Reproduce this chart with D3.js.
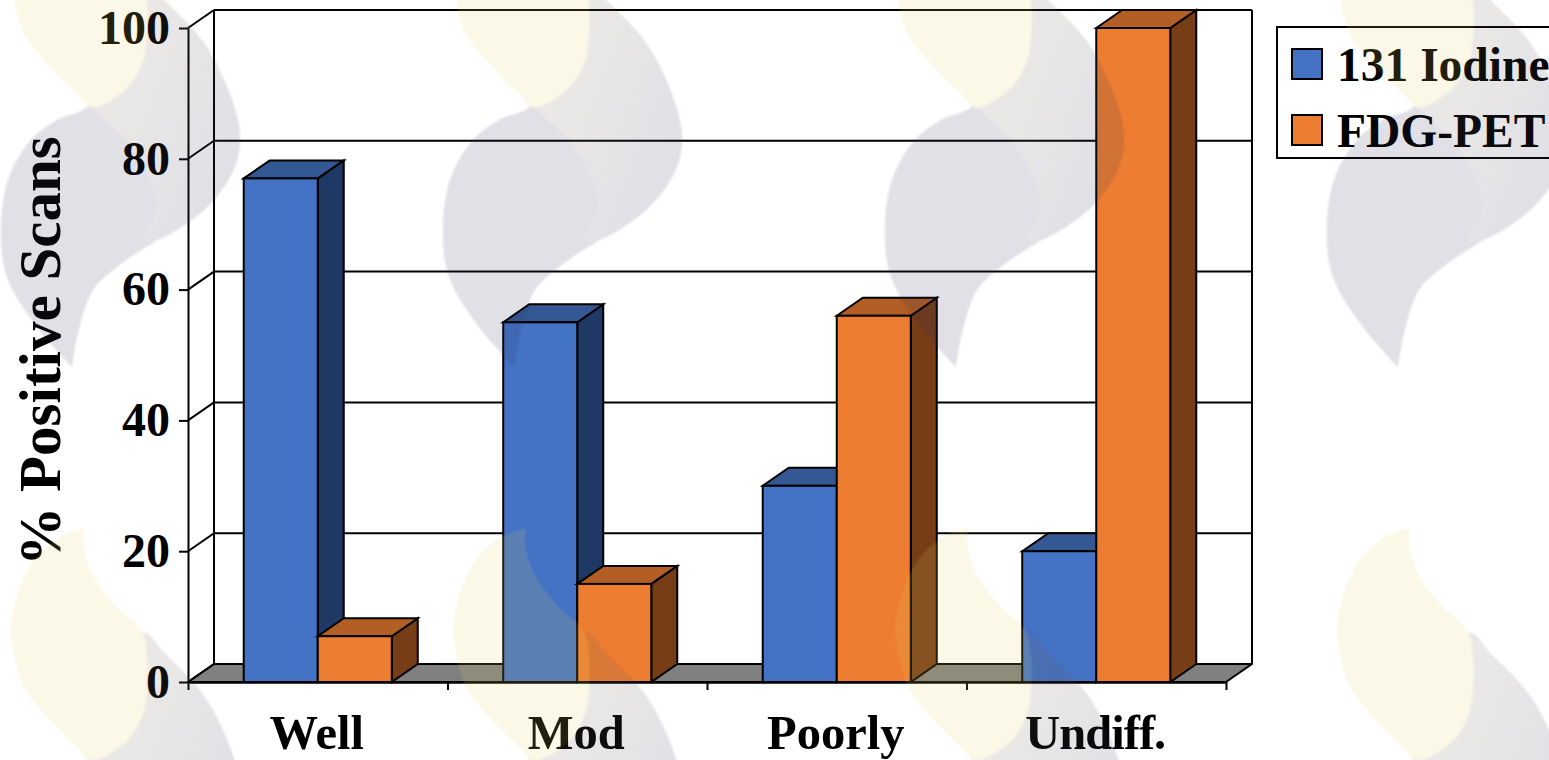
<!DOCTYPE html>
<html>
<head>
<meta charset="utf-8">
<title>% Positive Scans by differentiation</title>
<script src="https://cdn.jsdelivr.net/npm/d3@7"></script>
<style>
  html, body { margin: 0; padding: 0; background: #fff; overflow: hidden; }
  svg { display: block; }
  text { font-family: "Liberation Serif", "Times New Roman", serif; font-weight: bold; fill: #000; }
</style>
</head>
<body>
<svg id="chart" width="1549" height="760"></svg>
<script>
// Chart values
const categories = ["Well", "Mod", "Poorly", "Undiff."];
const seriesNames = ["131 Iodine", "FDG-PET"];
const iodine131 = [77, 55, 30, 20];
const fdgPet = [7, 15, 56, 100];
const yTicks = [0, 20, 40, 60, 80, 100];
const yTitle = "% Positive Scans";

// Palette: front, top and side faces of each series
const blueFaces = { front: "#4472c4", top: "#345893", side: "#203864" };
const orangeFaces = { front: "#ed7d31", top: "#b25e25", side: "#773d17" };

// Layout
const plot = { left: 188, right: 1226, top: 28, bottom: 682 };
const depth = { dx: 26, dy: -18 };
const ink = 2;

// Background flame motif: outlines in tile coordinates and tile origins
const flameOutline = [[71,367],[36,327],[6,277],[0,227],[8,177],[30,140],[56,120],[88,105],[110,20],[143,-20],[163,0],[203,43],[231,100],[239,140],[231,173],[203,210],[156,240],[116,267],[92,290],[77,333],[71,367]];
const flameBand = [[88,105],[128,143],[152,187],[154,213],[140,240],[156,240],[203,210],[231,173],[239,140],[231,100],[203,43],[163,0],[143,-20],[100,40],[88,105]];
const flameLobe = [[83,-125],[83,-103],[93,-76],[116,-46],[140,-23],[146,7],[146,30],[143,57],[130,83],[110,100],[90,107],[76,94],[46,64],[23,34],[13,0],[10,-26],[18,-63],[36,-97],[60,-117],[83,-125]];
const tileColumns = [1, 443, 885, 1327];
const tileRows = [0, 653];

const svg = d3.select("#chart");

const y = d3.scaleLinear().domain([0, 100]).range([plot.bottom, plot.top]);
const xEdges = d3.scaleLinear().domain([0, categories.length]).range([plot.left, plot.right]);
const xBand = d3.scaleBand().domain(categories).range([plot.left, plot.right]);
const xBar = d3.scaleBand().domain(seriesNames).range([0, xBand.bandwidth()]).paddingOuter(0.753).paddingInner(0);

const poly = pts => "M" + pts.map(p => p.join(",")).join("L") + "Z";

// Floor, back wall and left wall connectors
const chartArea = svg.append("g");
chartArea.append("path")
  .attr("d", poly([
    [plot.left, plot.bottom],
    [plot.left + depth.dx, plot.bottom + depth.dy],
    [plot.right + depth.dx, plot.bottom + depth.dy],
    [plot.right, plot.bottom]
  ]))
  .attr("fill", "#808080").attr("stroke", "#000").attr("stroke-width", ink).attr("stroke-linejoin", "round");

const gridLines = chartArea.append("g").attr("fill", "none").attr("stroke", "#000").attr("stroke-width", ink);
gridLines.selectAll("line.back").data(yTicks).join("line")
  .attr("class", "back")
  .attr("x1", plot.left + depth.dx).attr("x2", plot.right + depth.dx)
  .attr("y1", d => y(d) + depth.dy).attr("y2", d => y(d) + depth.dy);
gridLines.selectAll("line.side").data(yTicks).join("line")
  .attr("class", "side")
  .attr("x1", plot.left).attr("x2", plot.left + depth.dx)
  .attr("y1", d => y(d)).attr("y2", d => y(d) + depth.dy);
gridLines.append("line")
  .attr("x1", plot.left + depth.dx).attr("x2", plot.left + depth.dx)
  .attr("y1", y(100) + depth.dy).attr("y2", y(0) + depth.dy);
gridLines.append("line")
  .attr("x1", plot.right + depth.dx).attr("x2", plot.right + depth.dx)
  .attr("y1", y(100) + depth.dy).attr("y2", y(0) + depth.dy);

// Extruded bars, painted left to right so nearer faces overlap correctly
const rows = categories.flatMap((c, i) => [
  { category: c, series: seriesNames[0], value: iodine131[i], faces: blueFaces },
  { category: c, series: seriesNames[1], value: fdgPet[i], faces: orangeFaces }
]);
const bars = svg.append("g").selectAll("g").data(rows).join("g")
  .attr("stroke", "#000").attr("stroke-width", ink).attr("stroke-linejoin", "miter");
const barBox = d => {
  const x0 = xBand(d.category) + xBar(d.series);
  return { x0, x1: x0 + xBar.bandwidth(), y0: y(d.value), y1: y(0) };
};
bars.append("path").attr("fill", d => d.faces.side).attr("d", d => {
  const b = barBox(d);
  return poly([[b.x1, b.y0], [b.x1 + depth.dx, b.y0 + depth.dy], [b.x1 + depth.dx, b.y1 + depth.dy], [b.x1, b.y1]]);
});
bars.append("path").attr("fill", d => d.faces.top).attr("d", d => {
  const b = barBox(d);
  return poly([[b.x0, b.y0], [b.x0 + depth.dx, b.y0 + depth.dy], [b.x1 + depth.dx, b.y0 + depth.dy], [b.x1, b.y0]]);
});
bars.append("rect").attr("fill", d => d.faces.front)
  .attr("x", d => barBox(d).x0).attr("y", d => barBox(d).y0)
  .attr("width", xBar.bandwidth()).attr("height", d => barBox(d).y1 - barBox(d).y0);

// Axes
const yAxis = svg.append("g").attr("transform", `translate(${plot.left},0)`)
  .call(d3.axisLeft(y).tickValues(yTicks).tickSize(9).tickSizeOuter(0).tickPadding(9));
const xAxis = svg.append("g").attr("transform", `translate(0,${plot.bottom})`)
  .call(d3.axisBottom(xEdges).tickValues(d3.range(categories.length + 1)).tickFormat("").tickSize(8).tickSizeOuter(0));
[yAxis, xAxis].forEach(a => {
  a.selectAll("path, line").attr("stroke", "#000").attr("stroke-width", ink);
  a.selectAll("text").attr("font-family", null).style("font-size", "48px").attr("fill", "#000");
});
xAxis.select(".domain").attr("stroke-width", ink + 0.5);

svg.append("g").selectAll("text").data(categories).join("text")
  .attr("x", d => xBand(d) + xBand.bandwidth() / 2 - 1)
  .attr("y", 749)
  .attr("text-anchor", "middle")
  .style("font-size", "48.5px")
  .style("letter-spacing", d => d === "Undiff." ? "-1px" : null)
  .text(d => d);

svg.append("text")
  .attr("transform", "translate(60,351) rotate(-90)")
  .attr("text-anchor", "middle")
  .style("font-size", "59px")
  .text(yTitle);

// Legend
const legend = svg.append("g");
legend.append("rect").attr("x", 1277).attr("y", 27).attr("width", 300).attr("height", 131)
  .attr("fill", "none").attr("stroke", "#000").attr("stroke-width", ink);
const legendRows = legend.selectAll("g").data(seriesNames).join("g")
  .attr("transform", (d, i) => `translate(0,${i * 66})`);
legendRows.append("rect").attr("x", 1292).attr("y", 49).attr("width", 30).attr("height", 30)
  .attr("fill", (d, i) => [blueFaces, orangeFaces][i].front)
  .attr("stroke", "#000").attr("stroke-width", ink);
legendRows.append("text").attr("x", 1337).attr("y", 81)
  .style("font-size", "47.5px").text(d => d);

// Translucent flame motif laid over the whole page
const defs = svg.append("defs");
defs.append("filter").attr("id", "soft").attr("x", "-5%").attr("y", "-5%").attr("width", "110%").attr("height", "110%")
  .append("feGaussianBlur").attr("stdDeviation", 0.9);
const fade = defs.append("linearGradient").attr("id", "flameFade")
  .attr("x1", 0).attr("y1", 0).attr("x2", 1).attr("y2", 0.7);
fade.append("stop").attr("offset", "0.35").attr("stop-color", "#75675a");
fade.append("stop").attr("offset", "0.95").attr("stop-color", "#2d2d58");

const flameCurve = d3.line().curve(d3.curveCatmullRom.alpha(0.5));
const tiles = tileRows.flatMap(ty => tileColumns.map(tx => [tx, ty]));
const motif = svg.append("g").attr("opacity", 0.15).attr("pointer-events", "none");
const tile = motif.selectAll("g").data(tiles).join("g")
  .attr("transform", d => `translate(${d[0]},${d[1]})`)
  .attr("filter", "url(#soft)");
tile.append("path").attr("d", flameCurve(flameOutline)).attr("fill", "#2d2d58");
tile.append("path").attr("d", flameCurve(flameBand)).attr("fill", "url(#flameFade)");
tile.append("path").attr("d", flameCurve(flameLobe)).attr("fill", "#e4d05c");
</script>
</body>
</html>
